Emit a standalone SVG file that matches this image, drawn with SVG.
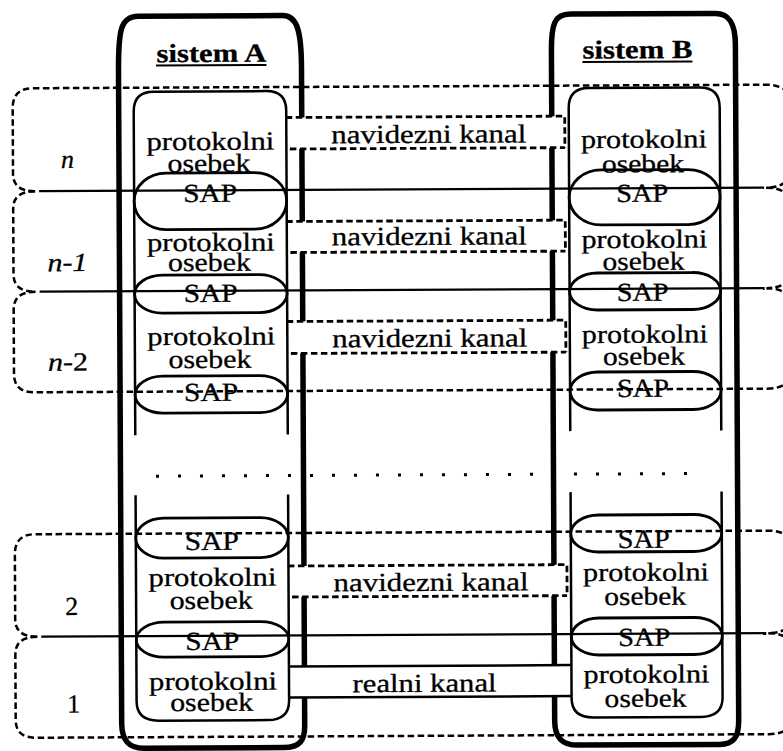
<svg xmlns="http://www.w3.org/2000/svg" width="783" height="751" viewBox="0 0 783 751">
  <style>
    .sys { fill: none; stroke: #000; stroke-width: 5.5; stroke-linejoin: round; }
    .col { fill: none; stroke: #000; stroke-width: 2.5; }
    .sap { fill: none; stroke: #000; stroke-width: 2.8; }
    .layer { fill: none; stroke: #000; stroke-width: 2.5; stroke-dasharray: 6.5 3.5; }
    .iface { fill: none; stroke: #000; stroke-width: 2.2; }
    .chfill { fill: #fff; stroke: none; }
    .vedge { fill: none; stroke: #000; stroke-width: 2.8; stroke-dasharray: 6.5 3.5; }
    .redge { fill: none; stroke: #000; stroke-width: 2.5; }
    .dots { fill: none; stroke: #000; stroke-width: 3; stroke-dasharray: 3 19; }
    .lbl { font-family: "Liberation Serif", "Times New Roman", serif; font-size: 26px; fill: #000; stroke: #000; stroke-width: 0.3; text-anchor: middle; }
    .title { font-weight: bold; }
    .it { font-style: italic; }
  </style>

  <g transform="rotate(-0.28 391 375)">
    <!-- outer system boundaries -->
    <g id="sistem-A">
      <path class="sys" d="M120,722 L120,70 C120,30 122,15 140,15 L284,15 C298,15 303,28 303,67 L303,725 C303,740 298,747 282,747 L142,747 C128,747 120,740 120,722 Z"/>
      <text class="lbl title" x="213" y="61" textLength="110" lengthAdjust="spacingAndGlyphs">sistem A</text>
      <line x1="157.5" y1="64.3" x2="268" y2="64.3" stroke="#000" stroke-width="2"/>
    </g>
    <g id="sistem-B">
      <path class="sys" d="M553,722 L553,52 C553,25 556,15 572,15 L717,15 C731,15 737,25 737,46 L737,722 C737,740 731,746 718,746 L576,746 C562,746 553,740 553,722 Z"/>
      <text class="lbl title" x="639" y="59.5" textLength="110" lengthAdjust="spacingAndGlyphs">sistem B</text>
      <line x1="584" y1="63" x2="694" y2="63" stroke="#000" stroke-width="2"/>
    </g>

    <!-- peer-to-peer channels between the two systems -->
    <g id="connectors">
      <g id="kanal-n">
        <rect class="chfill" x="289" y="117" width="277" height="31.5"/>
        <path class="vedge" d="M287,117 L566,117 L566,148.5 M291,148.5 L566,148.5"/>
        <text class="lbl" x="430" y="143" textLength="195" lengthAdjust="spacingAndGlyphs">navidezni kanal</text>
      </g>
      <g id="kanal-n-1">
        <rect class="chfill" x="289" y="221" width="277" height="31"/>
        <path class="vedge" d="M287,221 L566,221 L566,252 M291,252 L566,252"/>
        <text class="lbl" x="430" y="245" textLength="195" lengthAdjust="spacingAndGlyphs">navidezni kanal</text>
      </g>
      <g id="kanal-n-2">
        <rect class="chfill" x="289" y="321" width="277" height="32"/>
        <path class="vedge" d="M287,321 L566,321 L566,353 M291,353 L566,353"/>
        <text class="lbl" x="430" y="347" textLength="195" lengthAdjust="spacingAndGlyphs">navidezni kanal</text>
      </g>
      <g id="kanal-2">
        <rect class="chfill" x="289" y="565.5" width="277" height="31"/>
        <path class="vedge" d="M287,565.5 L566,565.5 L566,596.5 M291,596.5 L566,596.5"/>
        <text class="lbl" x="430" y="591" textLength="195" lengthAdjust="spacingAndGlyphs">navidezni kanal</text>
      </g>
      <g id="kanal-1">
        <rect class="chfill" x="289" y="666" width="281" height="31"/>
        <path class="redge" d="M288,666 L570,666 M288,697 L570,697"/>
        <text class="lbl" x="423" y="692" textLength="144" lengthAdjust="spacingAndGlyphs">realni kanal</text>
      </g>
    </g>

    <!-- protocol entity columns -->
    <g id="entitete-A">
      <path class="col" d="M135,434 L135,110 Q135,90.5 155,90.5 L267.5,90.5 Q287.5,90.5 287.5,110 L287.5,434"/>
      <path class="col" d="M135,494 L135,700 Q135,719.5 157,719.5 L266,719.5 Q287.5,719.5 287.5,700 L287.5,494"/>
      <rect class="sap" x="135" y="172" width="152.5" height="56.5" rx="32" ry="28"/>
      <rect class="sap" x="135" y="274" width="152.5" height="38" rx="28" ry="19"/>
      <rect class="sap" x="135" y="375" width="152.5" height="37" rx="28" ry="18.5"/>
      <rect class="sap" x="135" y="517" width="152.5" height="40" rx="28" ry="20"/>
      <rect class="sap" x="135" y="621" width="152.5" height="35" rx="28" ry="17.5"/>
      <text class="lbl" x="211.5" y="149" textLength="128" lengthAdjust="spacingAndGlyphs">protokolni</text>
      <text class="lbl" x="210" y="171" textLength="83" lengthAdjust="spacingAndGlyphs">osebek</text>
      <text class="lbl" x="211" y="201" textLength="54" lengthAdjust="spacingAndGlyphs">SAP</text>
      <text class="lbl" x="211.5" y="250" textLength="128" lengthAdjust="spacingAndGlyphs">protokolni</text>
      <text class="lbl" x="210" y="270" textLength="83" lengthAdjust="spacingAndGlyphs">osebek</text>
      <text class="lbl" x="211" y="301" textLength="54" lengthAdjust="spacingAndGlyphs">SAP</text>
      <text class="lbl" x="211.5" y="344" textLength="128" lengthAdjust="spacingAndGlyphs">protokolni</text>
      <text class="lbl" x="210" y="367" textLength="83" lengthAdjust="spacingAndGlyphs">osebek</text>
      <text class="lbl" x="211" y="400" textLength="54" lengthAdjust="spacingAndGlyphs">SAP</text>
      <text class="lbl" x="211" y="549" textLength="54" lengthAdjust="spacingAndGlyphs">SAP</text>
      <text class="lbl" x="211.5" y="585" textLength="128" lengthAdjust="spacingAndGlyphs">protokolni</text>
      <text class="lbl" x="210" y="608" textLength="83" lengthAdjust="spacingAndGlyphs">osebek</text>
      <text class="lbl" x="211" y="649" textLength="54" lengthAdjust="spacingAndGlyphs">SAP</text>
      <text class="lbl" x="211.5" y="689" textLength="128" lengthAdjust="spacingAndGlyphs">protokolni</text>
      <text class="lbl" x="210" y="710" textLength="83" lengthAdjust="spacingAndGlyphs">osebek</text>
    </g>
    <g id="entitete-B">
      <path class="col" d="M570,432 L570,109 Q570,89 590,89 L701,89 Q721,89 721,109 L721,432"/>
      <path class="col" d="M570,493 L570,699 Q570,718.5 592,718.5 L699,718.5 Q721,718.5 721,699 L721,493"/>
      <rect class="sap" x="570" y="171" width="151" height="55" rx="32" ry="27.5"/>
      <rect class="sap" x="570" y="274" width="151" height="37" rx="28" ry="18.5"/>
      <rect class="sap" x="570" y="373" width="151" height="38" rx="28" ry="19"/>
      <rect class="sap" x="570" y="516" width="151" height="37" rx="28" ry="18.5"/>
      <rect class="sap" x="570" y="619" width="151" height="37" rx="28" ry="18.5"/>
      <text class="lbl" x="645" y="149" textLength="126" lengthAdjust="spacingAndGlyphs">protokolni</text>
      <text class="lbl" x="644" y="173.5" textLength="82" lengthAdjust="spacingAndGlyphs">osebek</text>
      <text class="lbl" x="643" y="203" textLength="52" lengthAdjust="spacingAndGlyphs">SAP</text>
      <text class="lbl" x="645" y="249" textLength="126" lengthAdjust="spacingAndGlyphs">protokolni</text>
      <text class="lbl" x="644" y="271" textLength="82" lengthAdjust="spacingAndGlyphs">osebek</text>
      <text class="lbl" x="643" y="302" textLength="52" lengthAdjust="spacingAndGlyphs">SAP</text>
      <text class="lbl" x="645" y="344" textLength="126" lengthAdjust="spacingAndGlyphs">protokolni</text>
      <text class="lbl" x="644" y="366" textLength="82" lengthAdjust="spacingAndGlyphs">osebek</text>
      <text class="lbl" x="643" y="398" textLength="52" lengthAdjust="spacingAndGlyphs">SAP</text>
      <text class="lbl" x="643" y="549" textLength="52" lengthAdjust="spacingAndGlyphs">SAP</text>
      <text class="lbl" x="645" y="582" textLength="126" lengthAdjust="spacingAndGlyphs">protokolni</text>
      <text class="lbl" x="644" y="606" textLength="82" lengthAdjust="spacingAndGlyphs">osebek</text>
      <text class="lbl" x="643" y="647" textLength="52" lengthAdjust="spacingAndGlyphs">SAP</text>
      <text class="lbl" x="645" y="684" textLength="126" lengthAdjust="spacingAndGlyphs">protokolni</text>
      <text class="lbl" x="644" y="708" textLength="82" lengthAdjust="spacingAndGlyphs">osebek</text>
    </g>

    <!-- layer outlines (dashed) and service interfaces (solid) -->
    <g id="plast-n">
      <path class="layer" d="M36,189.5 Q14,189.5 14,172 L14,106.5 Q14,86.5 34,86.5 L767,86.5 Q795,86.5 795,114 L795,162 Q795,189.5 767,189.5"/>
      <text class="lbl it" x="68.5" y="166.5">n</text>
    </g>
    <g id="plast-n-1">
      <path class="layer" d="M36,189.5 Q14,189.5 14,207 L14,272.5 Q14,290 36,290 M767,189.5 Q795,189.5 795,217 L795,262 Q795,290 767,290"/>
      <text class="lbl it" x="68" y="269.5" textLength="40" lengthAdjust="spacingAndGlyphs">n-1</text>
    </g>
    <g id="plast-n-2">
      <path class="layer" d="M36,290 Q14,290 14,307.5 L14,372 Q14,390.5 34,390.5 L767,390.5 Q795,390.5 795,363 L795,318 Q795,290 767,290"/>
      <text class="lbl" x="68" y="369" textLength="40" lengthAdjust="spacingAndGlyphs"><tspan class="it">n</tspan>-2</text>
    </g>
    <g id="plast-2">
      <path class="layer" d="M36,635 Q14,635 14,617.5 L14,552.5 Q14,532.5 34,532.5 L767,532.5 Q795,532.5 795,560 L795,607 Q795,635 767,635"/>
      <text class="lbl" x="70.5" y="613.5">2</text>
    </g>
    <g id="plast-1">
      <path class="layer" d="M36,635 Q14,635 14,652.5 L14,718 Q14,736 34,736 L767,736 Q795,736 795,708 L795,663 Q795,635 767,635"/>
      <text class="lbl" x="72" y="711">1</text>
    </g>
    <g id="vmesniki">
      <line class="iface" x1="40" y1="189.5" x2="765" y2="189.5"/>
      <line class="iface" x1="40" y1="290" x2="765" y2="290"/>
      <line class="iface" x1="40" y1="635" x2="765" y2="635"/>
    </g>

    <!-- omitted intermediate layers -->
    <line class="dots" x1="155.5" y1="475" x2="690" y2="475"/>
  </g>
</svg>
